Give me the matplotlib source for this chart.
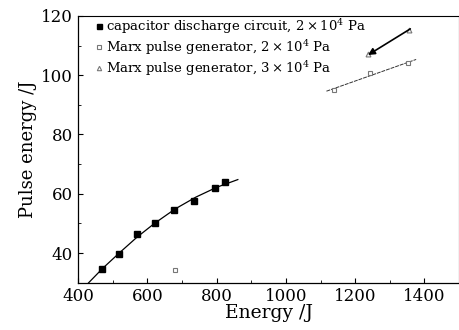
import numpy as np
import matplotlib
matplotlib.use('Agg')
import matplotlib.pyplot as plt

# dati
cap_x = [470, 518, 569, 621, 676, 735, 794, 825]
cap_y = [34.6, 39.7, 46.3, 50.3, 54.4, 57.5, 61.8, 64.0]
# curva di fit (punti letti)
fit_x = [430, 470, 520, 570, 620, 680, 740, 800, 861]
fit_y = [30.0, 34.8, 40.2, 45.4, 50.0, 54.9, 58.9, 62.2, 64.8]

marx2_x = [680, 1138, 1243, 1353]
marx2_y = [34.2, 95.0, 100.7, 104.0]
marx2_fit_x = [1117, 1376]
marx2_fit_y = [94.6, 105.3]

marx3_x = [1354, 1238]
marx3_y = [115.3, 107.0]

plt.rcParams['font.family'] = 'DejaVu Serif'
plt.rcParams['mathtext.fontset'] = 'dejavuserif'

fig = plt.figure(figsize=(4.6, 3.3), dpi=100)
ax = fig.add_axes([0.17, 0.143, 0.828, 0.809])

ax.plot(fit_x, fit_y, color='black', lw=0.9)
ax.plot(cap_x, cap_y, linestyle='', marker='s', ms=4, color='black',
        label=r'capacitor discharge circuit, $2\times10^4$ Pa')
ax.plot(marx2_fit_x, marx2_fit_y, color='#333333', lw=0.7, ls=(0, (4, 1)))
ax.plot(marx2_x, marx2_y, linestyle='', marker='s', ms=3.5, mfc='white',
        mec='#777777', mew=0.8, label=r'Marx pulse generator, $2\times10^4$ Pa')
ax.plot(marx3_x, marx3_y, linestyle='', marker='^', ms=3.5, mfc='white',
        mec='#777777', mew=0.8, label=r'Marx pulse generator, $3\times10^4$ Pa')
ax.annotate('', xy=(marx3_x[1] - 8, marx3_y[1] - 0.7), xytext=(marx3_x[0] + 12, marx3_y[0] + 0.8),
            arrowprops=dict(arrowstyle='-|>', color='black', lw=1.2, mutation_scale=10))

ax.set_xlim(400, 1500)
ax.set_ylim(30, 120)
ax.set_xticks([400, 600, 800, 1000, 1200, 1400])
ax.set_xticks(np.arange(500, 1500, 200), minor=True)
ax.set_yticks([40, 60, 80, 100, 120])
ax.set_yticks([50, 70, 90, 110], minor=True)
ax.tick_params(which='both', direction='in', labelsize=12, top=False, right=False)
ax.tick_params(which='major', length=3.5, pad=4)
ax.tick_params(which='minor', length=2)
for s in ['top', 'right']:
    ax.spines[s].set_linestyle((0, (1, 1)))
    ax.spines[s].set_linewidth(0.8)
for s in ['left', 'bottom']:
    ax.spines[s].set_linewidth(0.9)

ax.set_xlabel('Energy /J', fontsize=13.5, labelpad=-1)
ax.set_ylabel('Pulse energy /J', fontsize=13, labelpad=3)

ax.legend(loc='upper left', bbox_to_anchor=(0.035, 1.01), frameon=False, fontsize=9.5,
          handlelength=0.5, handletextpad=0.3, borderaxespad=0.0, borderpad=0.3,
          labelspacing=0.15, markerscale=0.9)

fig.savefig('out.png', dpi=100)
